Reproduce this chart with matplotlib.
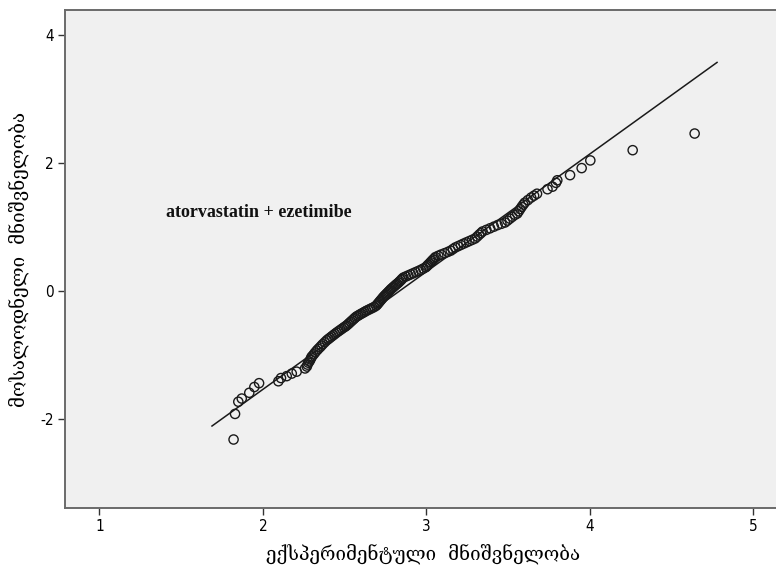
import matplotlib
matplotlib.use("Agg")
import matplotlib.pyplot as plt

# Observed values (sorted) and their expected normal scores
observed = [
    1.820, 1.829, 1.849, 1.870, 1.916, 1.947, 1.976, 2.094, 2.110, 2.145, 2.176, 2.206, 2.257,
    2.268, 2.272, 2.277, 2.284, 2.290, 2.295, 2.300, 2.310, 2.319, 2.329,
    2.338, 2.348, 2.357, 2.366, 2.378, 2.390,
    2.400, 2.410, 2.420, 2.430, 2.440, 2.450,
    2.461, 2.472, 2.483, 2.494, 2.503, 2.511,
    2.520, 2.528, 2.537, 2.545, 2.554, 2.562, 2.571,
    2.581, 2.591, 2.601, 2.612, 2.622, 2.632,
    2.644, 2.656, 2.668, 2.680, 2.692,
    2.699, 2.705, 2.712, 2.718, 2.725, 2.731, 2.738,
    2.744, 2.751, 2.757, 2.764, 2.770, 2.777, 2.783,
    2.791, 2.798, 2.806, 2.813, 2.821, 2.829, 2.836, 2.844, 2.851, 2.859,
    2.874, 2.889, 2.904, 2.919, 2.934, 2.950, 2.965, 2.980, 2.995,
    3.003, 3.010, 3.018, 3.025, 3.033, 3.040, 3.048, 3.055,
    3.072, 3.090, 3.110, 3.130, 3.148, 3.162, 3.176,
    3.193, 3.210, 3.227, 3.244, 3.262, 3.280, 3.297,
    3.310, 3.322, 3.333, 3.343,
    3.366, 3.389, 3.412, 3.435, 3.458, 3.480,
    3.495, 3.510, 3.525, 3.541, 3.555,
    3.564, 3.573, 3.582, 3.592, 3.601,
    3.620, 3.640, 3.658, 3.676,
    3.740, 3.771, 3.792, 3.800, 3.878, 3.949, 4.002, 4.261, 4.640,
]
expected = [
    -2.32, -1.92, -1.73, -1.68, -1.59, -1.50, -1.44, -1.41, -1.36, -1.33, -1.29, -1.26, -1.21,
    -1.18, -1.15, -1.12, -1.10, -1.07, -1.04, -1.02, -0.99, -0.96, -0.93,
    -0.905, -0.88, -0.855, -0.83, -0.80, -0.77,
    -0.75, -0.73, -0.71, -0.69, -0.67, -0.65,
    -0.63, -0.61, -0.59, -0.57, -0.555, -0.54,
    -0.52, -0.50, -0.48, -0.46, -0.44, -0.42, -0.40,
    -0.385, -0.37, -0.355, -0.34, -0.325, -0.31,
    -0.295, -0.28, -0.265, -0.25, -0.23,
    -0.21, -0.19, -0.17, -0.15, -0.13, -0.11, -0.09,
    -0.073, -0.056, -0.039, -0.022, -0.005, 0.012, 0.03,
    0.047, 0.064, 0.081, 0.098, 0.115, 0.132, 0.15, 0.17, 0.19, 0.21,
    0.227, 0.244, 0.261, 0.278, 0.295, 0.312, 0.33, 0.35, 0.37,
    0.39, 0.41, 0.43, 0.45, 0.47, 0.49, 0.51, 0.53,
    0.55, 0.57, 0.59, 0.61, 0.63, 0.655, 0.68,
    0.70, 0.72, 0.74, 0.76, 0.78, 0.80, 0.82,
    0.85, 0.88, 0.905, 0.93,
    0.955, 0.98, 1.005, 1.03, 1.05, 1.07,
    1.10, 1.13, 1.16, 1.19, 1.21,
    1.245, 1.28, 1.315, 1.35, 1.38,
    1.42, 1.46, 1.49, 1.52,
    1.59, 1.63, 1.69, 1.73, 1.81, 1.92, 2.04, 2.20, 2.46,
]

# Reference normal line: expected = (observed - mean) / sd
line_mean = 2.835
line_sd = 0.5438
line_x = [1.688, 4.777]
line_y = [(v - line_mean) / line_sd for v in line_x]

x_ticks = [1, 2, 3, 4, 5]
y_ticks = [-2, 0, 2, 4]

group_label = "atorvastatin + ezetimibe"
x_title = "ექსპერიმენტული  მნიშვნელობა"
y_title = "მოსალოდნელი  მნიშვნელობა"

W, H = 776, 567
fig = plt.figure(figsize=(W / 100, H / 100), dpi=100)
left_px, top_px, bottom_px, right_px = 65, 10, 508, 782
ax = fig.add_axes([left_px / W, 1 - bottom_px / H,
                   (right_px - left_px) / W, (bottom_px - top_px) / H])
ax.set_facecolor("#f0f0f0")

x0 = 0.789
px_per_x = 163.5
ax.set_xlim(x0, x0 + (right_px - left_px) / px_per_x)
ax.set_ylim(-3.39, 4.39)

ax.plot(line_x, line_y, color="#1a1a1a", lw=1.1, zorder=2)
ax.scatter(observed, expected, s=44, facecolors="none", edgecolors="#1a1a1a",
           linewidths=1.0, zorder=3)

ax.text(1.405, 1.23, group_label, family="Liberation Serif", fontweight="bold",
        fontsize=13, color="#111111", va="center", ha="left")

tick_font = ["Liberation Sans Narrow", "DejaVu Sans"]
ax.set_xticks(x_ticks)
ax.set_yticks(y_ticks)
ax.set_xticklabels([str(t) for t in x_ticks], family=tick_font, fontsize=11,
                   stretch="condensed")
ax.set_yticklabels([str(t) for t in y_ticks], family=tick_font, fontsize=11,
                   stretch="condensed")
ax.tick_params(direction="out", length=5, width=1, color="#333333", pad=3)

for side in ("left", "bottom", "top", "right"):
    ax.spines[side].set_color("#6a6a6a")
    ax.spines[side].set_linewidth(1.4)

ax.set_xlabel(x_title, family="DejaVu Serif", fontsize=13.5, labelpad=7)
ax.set_ylabel(y_title, family="DejaVu Serif", fontsize=13.5, labelpad=8)

fig.savefig("out.png", dpi=100, facecolor="white")
